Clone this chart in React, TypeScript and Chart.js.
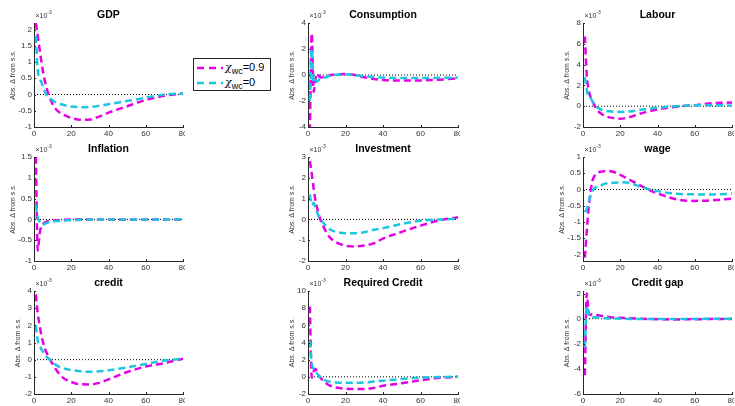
import React, { useEffect, useRef } from "react";
import { Chart, registerables } from "chart.js";

Chart.register(...registerables);

// ---------- data (values in units of 1e-3) ----------
const PERIODS = [1, 2, 3, 4, 5, 6, 7, 8, 10, 12, 15, 20, 25, 30, 35, 40, 50, 60, 70, 80];
const X_TICKS = [0, 20, 40, 60, 80];
const ZERO_SPAN = [0, 80];
const LEGEND_LABELS = ["=0.9", "=0"];

const gdpHigh = [2.2, 1.8, 1.4, 1.0, 0.65, 0.38, 0.15, -0.03, -0.3, -0.47, -0.6, -0.72, -0.78, -0.77, -0.68, -0.56, -0.36, -0.17, -0.04, 0.03];
const gdpLow = [1.8, 0.75, 0.5, 0.38, 0.2, 0.06, -0.04, -0.1, -0.18, -0.25, -0.31, -0.37, -0.39, -0.38, -0.35, -0.3, -0.2, -0.1, 0.0, 0.03];
const consHigh = [-4.3, 3.2, -1.3, -0.3, 0.1, -0.1, -0.2, -0.15, -0.1, -0.02, 0.05, 0.07, 0.0, -0.18, -0.3, -0.38, -0.43, -0.42, -0.36, -0.26];
const consLow = [-2.0, 2.0, -0.6, -0.4, -0.5, -0.35, -0.3, -0.25, -0.15, -0.05, 0.02, 0.05, 0.0, -0.1, -0.16, -0.2, -0.23, -0.23, -0.22, -0.2];
const labHigh = [6.7, 3.0, 1.6, 0.9, 0.5, 0.15, -0.2, -0.45, -0.75, -0.95, -1.1, -1.2, -1.05, -0.75, -0.5, -0.3, -0.05, 0.1, 0.3, 0.35];
const labLow = [2.8, 1.6, 0.9, 0.8, 0.5, 0.2, 0.0, -0.15, -0.35, -0.45, -0.5, -0.55, -0.5, -0.38, -0.25, -0.15, 0.0, 0.08, 0.1, 0.05];
const inflHigh = [1.5, -0.75, -0.35, -0.15, -0.1, -0.07, -0.05, -0.04, -0.03, -0.02, -0.01, 0, 0, 0, 0, 0, 0, 0, 0, 0];
const inflLow = [0.35, 0.05, -0.05, -0.12, -0.12, -0.1, -0.08, -0.07, -0.05, -0.04, -0.03, -0.02, -0.01, 0, 0, 0, 0, 0, 0, 0];
const invHigh = [2.8, 2.2, 1.5, 0.9, 0.5, 0.15, -0.1, -0.3, -0.65, -0.9, -1.1, -1.27, -1.3, -1.25, -1.15, -0.92, -0.6, -0.3, -0.05, 0.1];
const invLow = [1.2, 0.7, 0.8, 0.55, 0.3, 0.1, -0.05, -0.15, -0.35, -0.5, -0.6, -0.66, -0.66, -0.62, -0.5, -0.42, -0.22, -0.07, 0.0, 0.02];
const wageHigh = [-2.1, -1.3, -0.6, -0.1, 0.25, 0.4, 0.48, 0.52, 0.55, 0.57, 0.56, 0.45, 0.3, 0.15, 0.0, -0.12, -0.3, -0.35, -0.33, -0.28];
const wageLow = [-0.7, -0.6, -0.4, -0.2, -0.05, 0.02, 0.07, 0.1, 0.14, 0.18, 0.2, 0.22, 0.2, 0.1, 0.02, -0.05, -0.13, -0.15, -0.15, -0.13];
const creditHigh = [3.8, 2.7, 2.0, 1.4, 0.95, 0.6, 0.35, 0.1, -0.25, -0.6, -1.0, -1.3, -1.43, -1.44, -1.35, -1.15, -0.72, -0.4, -0.2, 0.05];
const creditLow = [2.0, 1.1, 0.85, 0.6, 0.45, 0.3, 0.15, 0.05, -0.15, -0.32, -0.48, -0.6, -0.68, -0.7, -0.68, -0.62, -0.45, -0.25, -0.05, 0.05];
const reqHigh = [8.2, -0.1, 0.6, 0.95, 0.45, 0.1, -0.2, -0.45, -0.8, -1.05, -1.25, -1.38, -1.43, -1.43, -1.3, -1.05, -0.75, -0.4, -0.12, 0.0];
const reqLow = [4.2, 1.6, 0.9, 0.7, 0.35, 0.05, -0.15, -0.3, -0.48, -0.58, -0.66, -0.7, -0.7, -0.67, -0.55, -0.45, -0.25, -0.1, -0.02, 0.0];
const gapHigh = [-4.5, 2.0, 0.5, 0.3, 0.35, 0.35, 0.3, 0.28, 0.22, 0.18, 0.12, 0.07, 0.03, 0.0, -0.03, -0.05, -0.06, -0.05, -0.03, -0.02];
const gapLow = [-2.3, 1.0, 0.4, 0.15, 0.12, 0.12, 0.12, 0.1, 0.06, 0.03, 0.01, 0.0, -0.02, -0.03, -0.03, -0.03, -0.03, -0.02, -0.01, 0.0];

const gdpTicks = [-1, -0.5, 0, 0.5, 1, 1.5, 2];
const consTicks = [-4, -2, 0, 2, 4];
const labTicks = [-2, 0, 2, 4, 6, 8];
const inflTicks = [-1, -0.5, 0, 0.5, 1, 1.5];
const invTicks = [-2, -1, 0, 1, 2, 3];
const wageTicks = [-2, -1.5, -1, -0.5, 0, 0.5, 1];
const creditTicks = [-2, -1, 0, 1, 2, 3, 4];
const reqTicks = [-2, 0, 2, 4, 6, 8, 10];
const gapTicks = [-6, -4, -2, 0, 2];

const PANELS = [
  { title: "GDP", high: gdpHigh, low: gdpLow, min: -1, max: 2.2, ticks: gdpTicks },
  { title: "Consumption", high: consHigh, low: consLow, min: -4, max: 4, ticks: consTicks },
  { title: "Labour", high: labHigh, low: labLow, min: -2, max: 8, ticks: labTicks },
  { title: "Inflation", high: inflHigh, low: inflLow, min: -1, max: 1.5, ticks: inflTicks },
  { title: "Investment", high: invHigh, low: invLow, min: -2, max: 3, ticks: invTicks },
  { title: "wage", high: wageHigh, low: wageLow, min: -2.2, max: 1, ticks: wageTicks },
  { title: "credit", high: creditHigh, low: creditLow, min: -2, max: 4, ticks: creditTicks },
  { title: "Required Credit", high: reqHigh, low: reqLow, min: -2, max: 10, ticks: reqTicks },
  { title: "Credit gap", high: gapHigh, low: gapLow, min: -6, max: 2.2, ticks: gapTicks },
];

// ---------- layout / style ----------
const COL_LEFT = [34, 308, 583];
const COL_WIDTH = [149, 150, 149];
const ROW_TOP = [23, 157, 291];
const ROW_HEIGHT = [104, 104, 103];
const PAD_LEFT = 34;
const PAD_TOP = 23;
const PAD_RIGHT = 2;
const X_AXIS_H = 14;

const MAGENTA = "#E600E6";
const CYAN = "#1CC6DE";
const AXIS_COLOR = "#262626";
const TICK_COLOR = "#333333";
const FONT = '"Liberation Sans", Arial, sans-serif';

const decorPlugin = {
  id: "decor",
  afterDraw(chart: any, _args: any, opts: any) {
    const { ctx, chartArea: a, scales } = chart;
    ctx.save();
    ctx.strokeStyle = AXIS_COLOR;
    ctx.lineWidth = 1;
    scales.x.ticks.forEach((t: any) => {
      const px = Math.round(scales.x.getPixelForValue(t.value)) + 0.5;
      ctx.beginPath();
      ctx.moveTo(px, a.bottom);
      ctx.lineTo(px, a.bottom - 2);
      ctx.stroke();
    });
    scales.y.ticks.forEach((t: any) => {
      const py = Math.round(scales.y.getPixelForValue(t.value)) + 0.5;
      ctx.beginPath();
      ctx.moveTo(a.left, py);
      ctx.lineTo(a.left + 2, py);
      ctx.stroke();
    });
    // title
    ctx.fillStyle = "#000";
    ctx.font = `bold 10.5px ${FONT}`;
    ctx.textAlign = "center";
    ctx.textBaseline = "middle";
    ctx.fillText(opts.title, (a.left + a.right) / 2, a.top - 8);
    // exponent
    ctx.fillStyle = TICK_COLOR;
    ctx.textAlign = "left";
    ctx.font = `7px ${FONT}`;
    ctx.fillText("\u00d710", a.left + 1.5, a.top - 7);
    const w = ctx.measureText("\u00d710").width;
    ctx.font = `5px ${FONT}`;
    ctx.fillText("-3", a.left + 1.5 + w, a.top - 10);
    // y label
    ctx.translate(a.left - opts.labelOffset, (a.top + a.bottom) / 2);
    ctx.rotate(-Math.PI / 2);
    ctx.font = `7px ${FONT}`;
    ctx.textAlign = "center";
    ctx.textBaseline = "middle";
    ctx.fillText("Abs. \u0394 from s.s.", 0, 0);
    ctx.restore();
  },
};

function fmt(v: number) {
  return String(v);
}

function Panel({ idx }: { idx: number }) {
  const ref = useRef<HTMLCanvasElement | null>(null);
  const p = PANELS[idx];
  const col = idx % 3;
  const row = Math.floor(idx / 3);
  const cw = PAD_LEFT + COL_WIDTH[col] + PAD_RIGHT;
  const ch = PAD_TOP + ROW_HEIGHT[row] + X_AXIS_H;
  const hasDecimals = p.ticks.some((t) => !Number.isInteger(t));

  useEffect(() => {
    if (!ref.current) return;
    const line = (vals: number[], color: string) => ({
      data: PERIODS.map((x, i) => ({ x, y: vals[i] })),
      borderColor: color,
      borderWidth: 2.5,
      borderDash: [7, 4],
      pointRadius: 0,
      fill: false,
      cubicInterpolationMode: "monotone" as const,
    });
    const chart = new Chart(ref.current, {
      type: "line",
      data: {
        datasets: [
          line(p.low, CYAN),
          line(p.high, MAGENTA),
          {
            data: ZERO_SPAN.map((x) => ({ x, y: 0 })),
            borderColor: "#000",
            borderWidth: 1,
            borderDash: [1, 2],
            pointRadius: 0,
            fill: false,
          },
        ],
      },
      options: {
        animation: false,
        responsive: false,
        maintainAspectRatio: false,
        devicePixelRatio: 1,
        events: [],
        layout: { padding: { left: 0, top: PAD_TOP, right: PAD_RIGHT, bottom: 0 } },
        plugins: {
          legend: { display: false },
          tooltip: { enabled: false },
          decor: { title: p.title, labelOffset: hasDecimals ? 21 : 16 },
        } as any,
        scales: {
          x: {
            type: "linear",
            min: 0,
            max: 80,
            grid: { display: false, drawTicks: false },
            border: { display: true, color: AXIS_COLOR, width: 1 },
            ticks: { color: TICK_COLOR, font: { family: FONT, size: 8 }, padding: 2, maxRotation: 0, autoSkip: false, callback: (v: any) => fmt(Number(v)) },
            afterBuildTicks: (s: any) => {
              s.ticks = X_TICKS.map((v) => ({ value: v }));
            },
            afterFit: (s: any) => {
              s.height = X_AXIS_H;
              s.paddingLeft = 0;
              s.paddingRight = 0;
            },
          },
          y: {
            type: "linear",
            min: p.min,
            max: p.max,
            grid: { display: false, drawTicks: false },
            border: { display: true, color: AXIS_COLOR, width: 1 },
            ticks: { color: TICK_COLOR, font: { family: FONT, size: 8 }, padding: 2, autoSkip: false, callback: (v: any) => fmt(Number(v)) },
            afterBuildTicks: (s: any) => {
              s.ticks = p.ticks.map((v) => ({ value: v }));
            },
            afterFit: (s: any) => {
              s.width = PAD_LEFT;
              s.paddingTop = 0;
              s.paddingBottom = 0;
            },
          },
        },
      } as any,
      plugins: [decorPlugin],
    });
    return () => chart.destroy();
  }, [idx]);

  return (
    <canvas
      ref={ref}
      width={cw}
      height={ch}
      style={{
        position: "absolute",
        left: COL_LEFT[col] - PAD_LEFT,
        top: ROW_TOP[row] - PAD_TOP,
        width: cw,
        height: ch,
      }}
    />
  );
}

function LegendRow({ color, label, top }: { color: string; label: string; top: number }) {
  return (
    <div style={{ position: "absolute", left: 0, top, height: 16, width: 78 }}>
      <svg width={30} height={16} style={{ position: "absolute", left: 2, top: 0 }}>
        <line x1={1} y1={7} x2={27} y2={7} stroke={color} strokeWidth={2.5} strokeDasharray="7 5" />
      </svg>
      <div
        style={{
          position: "absolute",
          left: 31,
          top: 0,
          lineHeight: "13px",
          fontSize: 11,
          fontFamily: FONT,
          color: "#000",
          whiteSpace: "nowrap",
        }}
      >
        <span style={{ fontFamily: '"DejaVu Serif", serif', fontStyle: "italic", fontSize: 11 }}>χ</span>
        <span style={{ fontSize: 9, position: "relative", top: 3 }}>wc</span>
        {label}
      </div>
    </div>
  );
}

export default function App() {
  return (
    <div style={{ position: "absolute", left: 0, top: 0, width: 735, height: 406, background: "#fff", overflow: "hidden" }}>
      {PANELS.map((_, i) => (
        <Panel key={i} idx={i} />
      ))}
      <div
        style={{
          position: "absolute",
          left: 193,
          top: 58,
          width: 78,
          height: 33,
          border: `1px solid ${AXIS_COLOR}`,
          background: "#fff",
          boxSizing: "border-box",
        }}
      >
        <LegendRow color={MAGENTA} label={LEGEND_LABELS[0]} top={2} />
        <LegendRow color={CYAN} label={LEGEND_LABELS[1]} top={17} />
      </div>
    </div>
  );
}
